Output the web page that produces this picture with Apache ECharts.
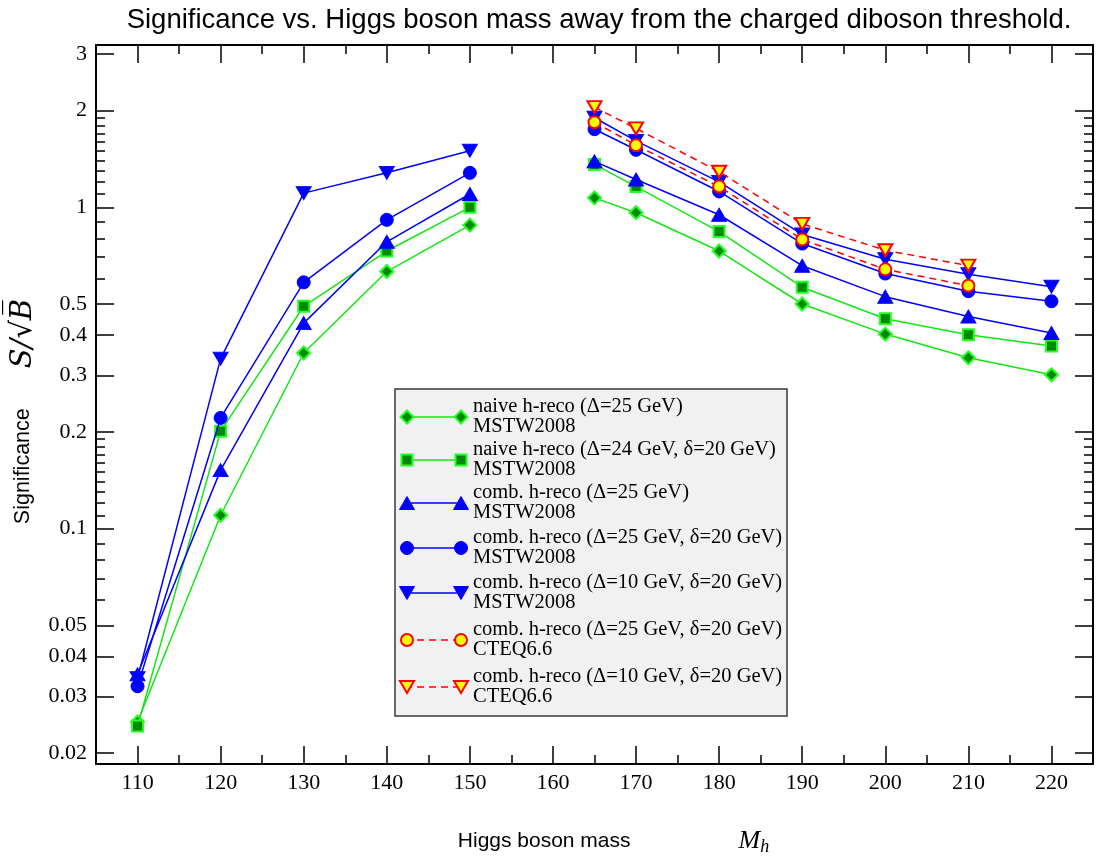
<!DOCTYPE html>
<html><head><meta charset="utf-8">
<script src="https://cdn.jsdelivr.net/npm/echarts@6/dist/echarts.min.js"></script>
<style>html,body{margin:0;padding:0;background:#fff}#c{width:1096px;height:861px}</style>
</head><body><div id="c"></div>
<script>
// ---- data ----
const massLow = [110, 120, 130, 140, 150];
const massHigh = [165, 170, 180, 190, 200, 210, 220];
const massCteq = [165, 170, 180, 190, 200, 210];
const naive25Low = [0.025, 0.110, 0.352, 0.631, 0.880];
const naive25High = [1.07, 0.962, 0.731, 0.500, 0.403, 0.340, 0.301];
const naive24Low = [0.0243, 0.201, 0.492, 0.731, 1.00];
const naive24High = [1.36, 1.16, 0.84, 0.564, 0.450, 0.401, 0.370];
const comb25Low = [0.0352, 0.152, 0.436, 0.781, 1.10];
const comb25High = [1.39, 1.22, 0.948, 0.658, 0.527, 0.457, 0.406];
const comb25d20Low = [0.0323, 0.221, 0.584, 0.914, 1.28];
const comb25d20High = [1.75, 1.51, 1.12, 0.771, 0.622, 0.548, 0.510];
const comb10d20Low = [0.0342, 0.338, 1.107, 1.28, 1.50];
const comb10d20High = [1.90, 1.61, 1.20, 0.823, 0.689, 0.619, 0.566];
const cteq25d20 = [1.84, 1.56, 1.16, 0.794, 0.641, 0.570];
const cteq10d20 = [2.05, 1.76, 1.29, 0.888, 0.735, 0.658];
const legendLabels = [
  'naive h-reco (Δ=25 GeV)\nMSTW2008',
  'naive h-reco (Δ=24 GeV, δ=20 GeV)\nMSTW2008',
  'comb. h-reco (Δ=25 GeV)\nMSTW2008',
  'comb. h-reco (Δ=25 GeV, δ=20 GeV)\nMSTW2008',
  'comb. h-reco (Δ=10 GeV, δ=20 GeV)\nMSTW2008',
  'comb. h-reco (Δ=25 GeV, δ=20 GeV)\nCTEQ6.6',
  'comb. h-reco (Δ=10 GeV, δ=20 GeV)\nCTEQ6.6'
];
const xMajorTicks = [110, 120, 130, 140, 150, 160, 170, 180, 190, 200, 210, 220];
const xMinorTicks = [115, 125, 135, 145, 155, 165, 175, 185, 195, 205, 215];
const yMajorTicks = [0.02, 0.03, 0.04, 0.05, 0.1, 0.2, 0.3, 0.4, 0.5, 1, 2, 3];
const yMinorTicks = [0.06, 0.07, 0.08, 0.09, 0.11, 0.12, 0.13, 0.14, 0.15, 0.16, 0.17, 0.18, 0.19,
  0.6, 0.7, 0.8, 0.9, 1.1, 1.2, 1.3, 1.4, 1.5, 1.6, 1.7, 1.8, 1.9];

// ---- helpers ----
const pair = (xs, ys) => xs.map((x, i) => [x, ys[i]]);
const split = (lowY, highY) => pair(massLow, lowY).concat([[157.5, '-']], pair(massHigh, highY));

const GREEN_LINE = '#14e614', GREEN_EDGE = '#22ff22', GREEN_FILL = '#008a00';
const BLUE = '#0000ff', RED = '#ff0000', YELLOW = '#ffff00';

const styles = [
  {sym: 'diamond', size: [13, 13], rot: 0, fill: GREEN_FILL, edge: GREEN_EDGE, line: GREEN_LINE, dash: 'solid', bw: 2},
  {sym: 'rect', size: [11, 11], rot: 0, fill: GREEN_FILL, edge: GREEN_EDGE, line: GREEN_LINE, dash: 'solid', bw: 2},
  {sym: 'triangle', size: [15, 13], rot: 0, fill: BLUE, edge: BLUE, line: BLUE, dash: 'solid', bw: 1},
  {sym: 'circle', size: [13, 13], rot: 0, fill: BLUE, edge: BLUE, line: BLUE, dash: 'solid', bw: 1},
  {sym: 'triangle', size: [15, 13], rot: 180, fill: BLUE, edge: BLUE, line: BLUE, dash: 'solid', bw: 1},
  {sym: 'circle', size: [12, 12], rot: 0, fill: YELLOW, edge: RED, line: RED, dash: [7, 5], bw: 2},
  {sym: 'triangle', size: [14, 12], rot: 180, fill: YELLOW, edge: RED, line: RED, dash: [7, 5], bw: 2}
];
const seriesData = [
  split(naive25Low, naive25High),
  split(naive24Low, naive24High),
  split(comb25Low, comb25High),
  split(comb25d20Low, comb25d20High),
  split(comb10d20Low, comb10d20High),
  pair(massCteq, cteq25d20),
  pair(massCteq, cteq10d20)
];

const series = seriesData.map((d, i) => {
  const s = styles[i];
  return {
    type: 'line', name: legendLabels[i], data: d, xAxisIndex: 0, yAxisIndex: 0,
    symbol: s.sym, symbolSize: s.size, symbolRotate: s.rot, showAllSymbol: true,
    connectNulls: false, animation: false, z: 10 + i,
    lineStyle: {color: s.line, width: 1.5, type: s.dash},
    itemStyle: {color: s.fill, borderColor: s.edge, borderWidth: s.bw},
    emphasis: {disabled: true}
  };
});

// ---- axes ----
const XMIN = 105, XMAX = 225, YMIN = 0.0185, YMAX = 3.2;
const serif = 'Liberation Serif';
function xAx(pos, ticks, len, labels, extra) {
  return Object.assign({
    type: 'value', min: XMIN, max: XMAX, position: pos,
    axisLine: {show: true, onZero: false, lineStyle: {color: '#000', width: 2}},
    axisTick: {show: true, inside: true, length: len, customValues: ticks, lineStyle: {color: '#000', width: 1.5}},
    axisLabel: labels ? {show: true, customValues: ticks, fontFamily: serif, fontSize: 22, color: '#000', margin: 8} : {show: false},
    splitLine: {show: false}, minorTick: {show: false}
  }, extra || {});
}
function yAx(pos, ticks, len, labels, extra) {
  return Object.assign({
    type: 'log', logBase: 10, min: YMIN, max: YMAX, position: pos,
    axisLine: {show: true, onZero: false, lineStyle: {color: '#000', width: 2}},
    axisTick: {show: true, inside: true, length: len, customValues: ticks, lineStyle: {color: '#000', width: 1.5}},
    axisLabel: labels ? {show: true, customValues: ticks, fontFamily: serif, fontSize: 22, color: '#000', margin: 9,
      formatter: v => String(+(+v).toPrecision(3))} : {show: false},
    splitLine: {show: false}, minorTick: {show: false}
  }, extra || {});
}

const option = {
  backgroundColor: '#fff',
  animation: false,
  title: {
    text: 'Significance vs. Higgs boson mass away from the charged diboson threshold.',
    left: 594, top: 1, textAlign: 'center',
    textStyle: {fontFamily: 'Liberation Sans', fontSize: 27.5, fontWeight: 'normal', color: '#000'}
  },
  grid: {left: 96, right: 3, top: 45, bottom: 91, containLabel: false},
  xAxis: [
    xAx('bottom', xMajorTicks, 18, true, {
      name: '{a|Higgs boson mass}{s|}{m|M}{h|h}', nameLocation: 'middle', nameGap: 62,
      nameTextStyle: {padding: [0, 0, 0, 38], rich: {
        a: {fontFamily: 'Liberation Sans', fontSize: 21, color: '#000'},
        s: {width: 108},
        m: {fontFamily: serif, fontStyle: 'italic', fontSize: 26, color: '#000'},
        h: {fontFamily: serif, fontStyle: 'italic', fontSize: 18, color: '#000', padding: [12, 0, 0, 0]}
      }}
    }),
    xAx('bottom', xMinorTicks, 9, false),
    xAx('top', xMajorTicks, 18, false),
    xAx('top', xMinorTicks, 9, false)
  ],
  yAxis: [
    yAx('left', yMajorTicks, 18, true, {
      name: '{a|Significance}{s|}{m|S/√B̅}', nameLocation: 'middle', nameGap: 47, nameRotate: 90,
      nameTextStyle: {padding: [0, 14, 0, 0], rich: {
        a: {fontFamily: 'Liberation Sans', fontSize: 21.5, color: '#000'},
        s: {width: 40},
        m: {fontFamily: 'DejaVu Serif', fontStyle: 'italic', fontSize: 29, color: '#000'}
      }}
    }),
    yAx('left', yMinorTicks, 9, false),
    yAx('right', yMajorTicks, 18, false),
    yAx('right', yMinorTicks, 9, false)
  ],
  series: series
};

// ---- legend (drawn as a box with sample lines, symbols and text) ----
const LX = 395, LY = 389, LW = 392, LH = 327;
const itemY = [417, 460, 503, 548, 593, 640, 687];
const legendEls = [{
  type: 'rect', shape: {x: LX, y: LY, width: LW, height: LH},
  style: {fill: '#f1f1f1', stroke: '#3a3a3a', lineWidth: 1.5}, z: 100
}];
function markerEl(s, cx, cy) {
  const st = {fill: s.fill, stroke: s.edge, lineWidth: s.bw};
  const w = s.size[0] / 2, h = s.size[1] / 2;
  if (s.sym === 'circle') return {type: 'circle', shape: {cx, cy, r: w}, style: st, z: 102};
  if (s.sym === 'rect') return {type: 'rect', shape: {x: cx - w, y: cy - h, width: 2 * w, height: 2 * h}, style: st, z: 102};
  if (s.sym === 'diamond') return {type: 'polygon', shape: {points: [[cx, cy - h], [cx + w, cy], [cx, cy + h], [cx - w, cy]]}, style: st, z: 102};
  if (s.rot === 180) return {type: 'polygon', shape: {points: [[cx - w, cy - h], [cx + w, cy - h], [cx, cy + h]]}, style: st, z: 102};
  return {type: 'polygon', shape: {points: [[cx, cy - h], [cx + w, cy + h], [cx - w, cy + h]]}, style: st, z: 102};
}
styles.forEach((s, i) => {
  const y = itemY[i];
  legendEls.push({type: 'line', shape: {x1: 405, y1: y, x2: 463, y2: y},
    style: {stroke: s.line, lineWidth: 1.5, lineDash: s.dash === 'solid' ? null : [7, 5]}, z: 101});
  legendEls.push(markerEl(s, 407, y));
  legendEls.push(markerEl(s, 461, y));
  legendEls.push({type: 'text', x: 473, y: y, z: 102,
    style: {text: legendLabels[i], fontFamily: serif, fontSize: 20.5, lineHeight: 20, fill: '#000', verticalAlign: 'middle', align: 'left'}});
});
option.graphic = legendEls;

const chart = echarts.init(document.getElementById('c'), null, {renderer: 'canvas'});
chart.setOption(option);
</script>
</body></html>
